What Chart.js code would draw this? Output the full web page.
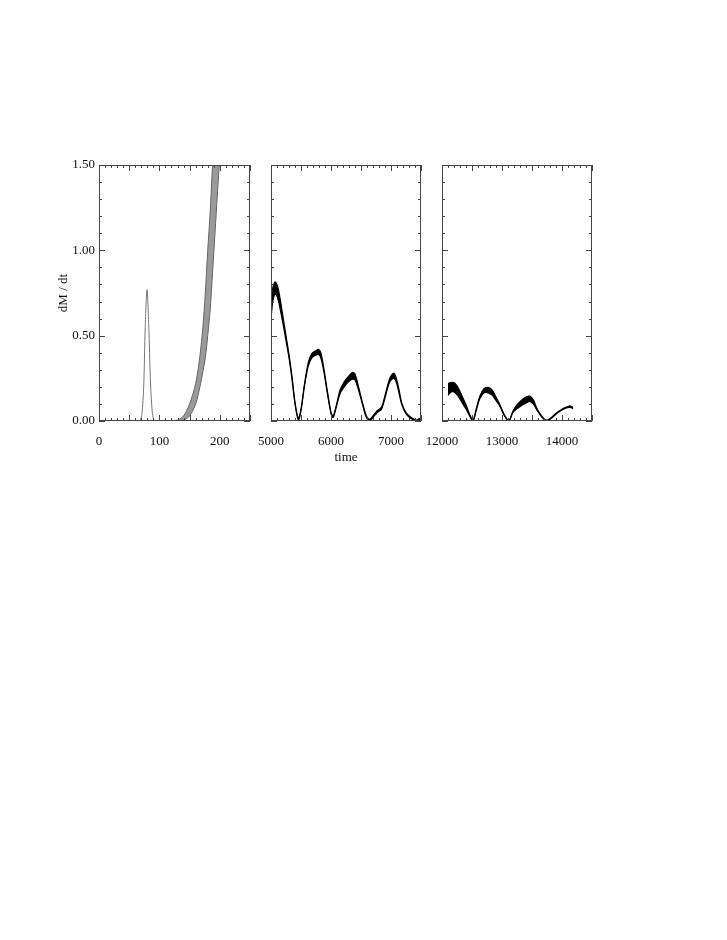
<!DOCTYPE html>
<html>
<head>
<meta charset="utf-8">
<script src="https://cdn.jsdelivr.net/npm/chart.js@4.4.0/dist/chart.umd.min.js"></script>
<style>
body { margin: 0; background: #fff; width: 727px; height: 940px; position: relative; }
canvas { position: absolute; }
</style>
</head>
<body>
<canvas id="c1" width="230" height="340" style="left:40px;top:150px"></canvas>
<canvas id="c2" width="210" height="340" style="left:231px;top:150px"></canvas>
<canvas id="c3" width="210" height="340" style="left:402px;top:150px"></canvas>
<script>
// tick labels
var yTicks = [0, 0.5, 1.0, 1.5];
var xTicks1 = [0, 100, 200];
var xTicks2 = [5000, 6000, 7000];
var xTicks3 = [12000, 13000, 14000];

// panel 1: first burst
var peakTime = [60, 65, 68, 71, 74, 76.5, 79.5, 82.5, 85, 88, 91, 95];
var peakRate = [0, 0, 0.003, 0.04, 0.2, 0.55, 0.77, 0.55, 0.25, 0.06, 0.005, 0];

// panel 1: growing oscillation (envelope)
var riseTime  = [120, 130, 140, 150, 160, 167, 172, 176, 180, 184, 188, 192, 196, 200, 204];
var riseUpper = [0, 0.005, 0.03, 0.1, 0.22, 0.38, 0.55, 0.75, 1.0, 1.22, 1.5, 1.75, 2.0, 2.2, 2.4];
var riseLower = [0, 0, 0.005, 0.03, 0.1, 0.2, 0.29, 0.37, 0.5, 0.65, 0.87, 1.1, 1.33, 1.55, 1.75];

// panel 2
var midTime  = [5000, 5030, 5070, 5110, 5150, 5200, 5250, 5300, 5350, 5400, 5456, 5500, 5560, 5620, 5680, 5740, 5790, 5830, 5880, 5940, 6000, 6035, 6080, 6150, 6220, 6290, 6360, 6400, 6460, 6530, 6590, 6645, 6700, 6770, 6840, 6900, 6930, 6980, 7040, 7080, 7130, 7180, 7250, 7320, 7390, 7430, 7500];
var midUpper = [0.70, 0.78, 0.815, 0.79, 0.72, 0.61, 0.50, 0.39, 0.26, 0.11, 0.015, 0.07, 0.22, 0.34, 0.395, 0.41, 0.42, 0.40, 0.31, 0.175, 0.05, 0.03, 0.08, 0.18, 0.23, 0.26, 0.285, 0.275, 0.20, 0.10, 0.03, 0.01, 0.03, 0.06, 0.08, 0.15, 0.19, 0.25, 0.28, 0.26, 0.19, 0.105, 0.05, 0.025, 0.01, 0.006, 0.018];
var midLower = [0.60, 0.70, 0.745, 0.72, 0.66, 0.57, 0.47, 0.37, 0.245, 0.10, 0.005, 0.06, 0.21, 0.32, 0.37, 0.385, 0.39, 0.37, 0.29, 0.16, 0.045, 0.02, 0.07, 0.16, 0.20, 0.23, 0.245, 0.24, 0.18, 0.09, 0.02, 0.0, 0.02, 0.05, 0.068, 0.135, 0.175, 0.23, 0.25, 0.235, 0.17, 0.095, 0.042, 0.018, 0.005, 0.0, 0.01];

// panel 3
var lateTime  = [12100, 12150, 12200, 12260, 12330, 12400, 12460, 12517, 12570, 12630, 12700, 12770, 12840, 12900, 12960, 13040, 13117, 13180, 13240, 13320, 13400, 13460, 13520, 13580, 13660, 13740, 13820, 13900, 13980, 14060, 14120, 14160, 14183];
var lateUpper = [0.22, 0.225, 0.225, 0.20, 0.15, 0.095, 0.04, 0.006, 0.07, 0.145, 0.19, 0.197, 0.18, 0.14, 0.10, 0.035, 0.005, 0.055, 0.09, 0.12, 0.14, 0.146, 0.125, 0.075, 0.03, 0.005, 0.02, 0.045, 0.065, 0.08, 0.088, 0.085, 0.078];
var lateLower = [0.15, 0.17, 0.17, 0.15, 0.11, 0.07, 0.03, 0.0, 0.06, 0.13, 0.165, 0.165, 0.15, 0.12, 0.09, 0.03, 0.0, 0.05, 0.07, 0.09, 0.105, 0.115, 0.10, 0.065, 0.025, 0.0, 0.015, 0.04, 0.06, 0.075, 0.08, 0.078, 0.072];

function pts(t, v) {
    return t.map(function (ti, i) { return { x: ti, y: v[i] }; });
}

var serif = 'Liberation Serif';

// box with inward ticks on all four sides
var frameTicks = {
    id: 'frameTicks',
    afterDatasetsDraw: function (chart, args, opts) {
        var ctx = chart.ctx, a = chart.chartArea;
        var x = chart.scales.x, y = chart.scales.y;
        ctx.save();
        ctx.strokeStyle = '#444';
        ctx.lineWidth = 1;
        ctx.strokeRect(a.left + 0.5, a.top + 0.5, a.right - a.left - 1, a.bottom - a.top - 1);
        ctx.beginPath();
        var n = Math.round((x.max - x.min) / opts.xMinor);
        for (var i = 0; i <= n; i++) {
            var v = x.min + i * opts.xMinor;
            var px = Math.round(x.getPixelForValue(v)) + 0.5;
            var len = (Math.round(v) % opts.xMajor === 0) ? 6 : 3;
            ctx.moveTo(px, a.bottom); ctx.lineTo(px, a.bottom - len);
            ctx.moveTo(px, a.top); ctx.lineTo(px, a.top + len);
        }
        var m = Math.round((y.max - y.min) / 0.1);
        for (var j = 0; j <= m; j++) {
            var py = Math.round(y.getPixelForValue(j * 0.1)) + 0.5;
            var l = (j % 5 === 0) ? 6 : 3;
            ctx.moveTo(a.left, py); ctx.lineTo(a.left + l, py);
            ctx.moveTo(a.right, py); ctx.lineTo(a.right - l, py);
        }
        ctx.stroke();
        ctx.restore();
    }
};

function makeOptions(xmin, xmax, xticks, xMajor, xMinor, opts) {
    return {
        responsive: false,
        animation: false,
        devicePixelRatio: 1,
        layout: { padding: opts.padding },
        elements: { point: { radius: 0 }, line: { tension: 0.3 } },
        plugins: {
            legend: { display: false },
            tooltip: { enabled: false },
            frameTicks: { xMajor: xMajor, xMinor: xMinor }
        },
        scales: {
            x: {
                type: 'linear',
                min: xmin,
                max: xmax,
                grid: { display: false, drawTicks: false },
                border: { display: false },
                afterBuildTicks: function (s) { s.ticks = xticks.map(function (v) { return { value: v }; }); },
                afterFit: function (s) { s.height = opts.xHeight; },
                ticks: {
                    padding: 13,
                    maxRotation: 0,
                    autoSkip: false,
                    color: '#111',
                    font: { family: serif, size: 13 },
                    callback: function (v) { return String(v); }
                },
                title: {
                    display: !!opts.xTitle,
                    text: opts.xTitle || '',
                    color: '#111',
                    padding: 0,
                    font: { family: serif, size: 13 }
                }
            },
            y: {
                display: opts.showY,
                min: 0,
                max: 1.5,
                grid: { display: false, drawTicks: false },
                border: { display: false },
                afterBuildTicks: function (s) { s.ticks = yTicks.map(function (v) { return { value: v }; }); },
                afterFit: function (s) { s.width = opts.showY ? 59 : 40; },
                ticks: {
                    padding: 4,
                    color: '#111',
                    font: { family: serif, size: 13 },
                    callback: function (v) { return v.toFixed(2); }
                },
                title: {
                    display: true,
                    text: 'dM / dt',
                    color: '#111',
                    padding: { top: 16, bottom: 0 },
                    font: { family: serif, size: 13 }
                }
            }
        }
    };
}

new Chart(document.getElementById('c1'), {
    type: 'line',
    data: {
        datasets: [
            { data: pts(peakTime, peakRate), borderColor: '#777', borderWidth: 1, fill: false },
            { data: pts(riseTime, riseUpper), borderColor: '#666', borderWidth: 1, backgroundColor: 'rgba(120,120,120,0.75)', fill: '+1' },
            { data: pts(riseTime, riseLower), borderColor: '#555', borderWidth: 1, fill: false }
        ]
    },
    options: makeOptions(0, 250, xTicks1, 50, 10, { padding: { left: 0, right: 20, top: 15, bottom: 39 }, xHeight: 30, showY: true }),
    plugins: [frameTicks]
});

new Chart(document.getElementById('c2'), {
    type: 'line',
    data: {
        datasets: [
            { data: pts(midTime, midUpper), borderColor: '#000', borderWidth: 1.2, backgroundColor: '#000', fill: '+1' },
            { data: pts(midTime, midLower), borderColor: '#000', borderWidth: 1.2, fill: false }
        ]
    },
    options: makeOptions(5000, 7500, xTicks2, 500, 100, { padding: { left: 0, right: 20, top: 15, bottom: 25 }, xHeight: 44, xTitle: 'time', showY: false }),
    plugins: [frameTicks]
});

new Chart(document.getElementById('c3'), {
    type: 'line',
    data: {
        datasets: [
            { data: pts(lateTime, lateUpper), borderColor: '#000', borderWidth: 1.2, backgroundColor: '#000', fill: '+1' },
            { data: pts(lateTime, lateLower), borderColor: '#000', borderWidth: 1.2, fill: false }
        ]
    },
    options: makeOptions(12000, 14500, xTicks3, 500, 100, { padding: { left: 0, right: 20, top: 15, bottom: 39 }, xHeight: 30, showY: false }),
    plugins: [frameTicks]
});
</script>
</body>
</html>
